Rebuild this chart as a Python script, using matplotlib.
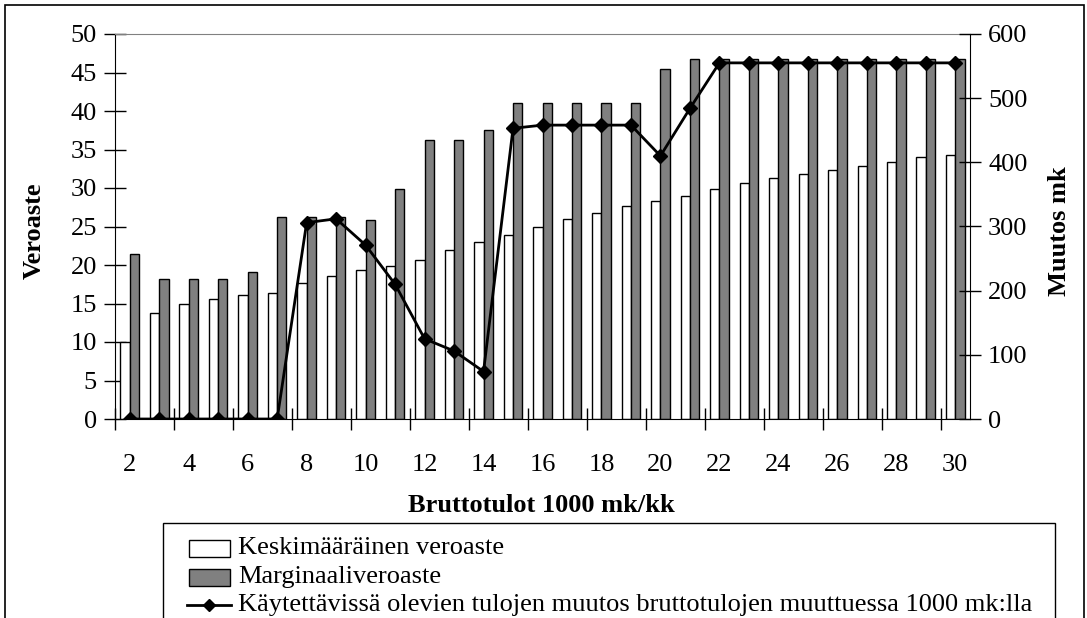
import matplotlib
matplotlib.use("Agg")
import matplotlib.pyplot as plt
from matplotlib.patches import Rectangle
from matplotlib.lines import Line2D
import numpy as np

# Bruttotulot 1000 mk/kk
tulot = list(range(2, 31))
# Keskimääräinen veroaste (%)
keskim = [10.0, 13.8, 14.9, 15.6, 16.1, 16.4, 17.6, 18.6, 19.3, 19.9,
          20.7, 21.9, 23.0, 23.9, 24.9, 26.0, 26.7, 27.6, 28.3, 29.0,
          29.9, 30.6, 31.3, 31.8, 32.4, 32.9, 33.4, 34.0, 34.3]
# Marginaaliveroaste (%)
marginaali = [21.4, 18.2, 18.2, 18.2, 19.1, 26.2, 26.2, 26.2, 25.8, 29.9,
              36.2, 36.2, 37.5, 41.0, 41.0, 41.0, 41.0, 41.0, 45.4, 46.7,
              46.7, 46.7, 46.7, 46.7, 46.7, 46.7, 46.7, 46.7, 46.7]
# Käytettävissä olevien tulojen muutos (mk)
muutos = [0, 0, 0, 0, 0, 0, 306, 312, 271, 210,
          125, 106, 74, 453, 458, 458, 458, 458, 410, 484,
          555, 555, 555, 555, 555, 555, 555, 555, 555]

labels = ["Keskimääräinen veroaste", "Marginaaliveroaste",
          "Käytettävissä olevien tulojen muutos bruttotulojen muuttuessa 1000 mk:lla"]

plt.rcParams['font.family'] = ['Liberation Serif', 'DejaVu Serif']
FS = 19
W, H = 1087, 618

fig = plt.figure(figsize=(W / 100, H / 100), dpi=100)
ax = fig.add_axes([115/W, 1-419/H, 855/W, 385/H])

x = np.arange(len(tulot))
w = 0.315
ax.bar(x - w/2, keskim, w, color="white", edgecolor="black", linewidth=1.0, zorder=2)
ax.bar(x + w/2, marginaali, w, color="#808080", edgecolor="black", linewidth=1.0, zorder=2)

ax.set_xlim(-0.5, len(tulot) - 0.5)
ax.set_ylim(0, 50)
ax.set_yticks(range(0, 51, 5))
ax.set_xticks(x[::2])
ax.set_xticklabels([str(t) for t in tulot[::2]])
ax.set_xticks(np.arange(-0.5, len(tulot), 2), minor=True)
ax.tick_params(axis="x", which="major", length=0, pad=25, labelsize=FS)
ax.tick_params(axis="x", which="minor", direction="inout", length=16, width=1)
ax.tick_params(axis="y", direction="inout", length=16, width=1, labelsize=FS, pad=5)

ax.spines["top"].set_color("#808080")
ax.spines["right"].set_visible(False)

ax2 = ax.twinx()
ax2.plot(x, muutos, color="black", linewidth=2, marker="D", markersize=7.5, zorder=3)
ax2.set_ylim(0, 600)
ax2.set_yticks(range(0, 601, 100))
ax2.tick_params(axis="y", direction="inout", length=16, width=1, labelsize=FS, pad=5)
for s in ["top", "left", "bottom"]:
    ax2.spines[s].set_visible(False)

# akselien otsikot
fig.text(34/W, 1-231/H, "Veroaste", rotation=90, ha="center", va="center",
         fontsize=FS, fontweight="bold")
fig.text(1059/W, 1-231/H, "Muutos mk", rotation=90, ha="center", va="center",
         fontsize=FS, fontweight="bold")
fig.text(541/W, 1-505/H, "Bruttotulot 1000 mk/kk", ha="center", va="center",
         fontsize=FS, fontweight="bold")

# selite piirretään käsin (laatikko jatkuu kuvan alareunan yli)
fig.patches.append(Rectangle((163/W, -0.1), 892/W, 0.1 + 1 - 523/H,
                             transform=fig.transFigure, fill=False,
                             edgecolor="black", linewidth=1))
rows = [548, 577, 605]
for yy, fc in zip(rows[:2], ["white", "#808080"]):
    fig.patches.append(Rectangle((189/W, 1-(yy+8.5)/H), 41/W, 17/H,
                                 transform=fig.transFigure, facecolor=fc,
                                 edgecolor="black", linewidth=1))
fig.lines.append(Line2D([187/W, 231/W], [1-rows[2]/H, 1-rows[2]/H],
                        transform=fig.transFigure, color="black", linewidth=2))
fig.lines.append(Line2D([209/W], [1-rows[2]/H], transform=fig.transFigure,
                        color="black", marker="D", markersize=6))
for yy, lab in zip(rows, labels):
    fig.text(238/W, 1-yy/H, lab, ha="left", va="center", fontsize=FS)

# kaavion ulkoreunus
fig.patches.append(Rectangle((5/W, -0.1), 1079/W, 1.1 - 5/H,
                             transform=fig.transFigure, fill=False,
                             edgecolor="black", linewidth=1.2))

fig.savefig("out.png", dpi=100)
